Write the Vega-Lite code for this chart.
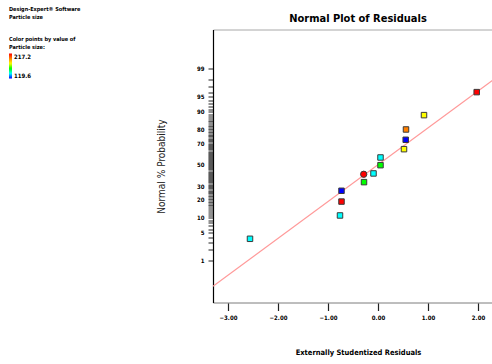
{
  "$schema": "https://vega.github.io/schema/vega-lite/v6.json",
  "width": 290,
  "height": 273,
  "padding": {"left": 9, "top": 6.5, "right": 0, "bottom": 0},
  "background": "white",
  "title": {
    "text": "Normal Plot of Residuals",
    "font": "DejaVu Sans Condensed",
    "fontSize": 11,
    "fontWeight": "bold",
    "color": "#000000",
    "anchor": "middle",
    "frame": "group",
    "offset": -16.5
  },
  "datasets": {
    "fit": [
      {"residual": -3.3, "normal_score": -2.937},
      {"residual": 2.5, "normal_score": 2.225}
    ],
    "points": [
      {"residual": -2.56, "normal_score": -1.79, "particle_size": 139.12},
      {"residual": -0.76, "normal_score": -1.226, "particle_size": 139.12},
      {"residual": -0.73, "normal_score": -0.89, "particle_size": 217.2},
      {"residual": -0.73, "normal_score": -0.629, "particle_size": 119.6},
      {"residual": -0.28, "normal_score": -0.42, "particle_size": 158.64},
      {"residual": -0.09, "normal_score": -0.21, "particle_size": 139.12},
      {"residual": 0.05, "normal_score": -0.01, "particle_size": 158.64},
      {"residual": 0.05, "normal_score": 0.176, "particle_size": 139.12},
      {"residual": 0.52, "normal_score": 0.377, "particle_size": 178.16},
      {"residual": 0.554, "normal_score": 0.604, "particle_size": 119.6},
      {"residual": 0.56, "normal_score": 0.853, "particle_size": 197.68},
      {"residual": 0.92, "normal_score": 1.20, "particle_size": 178.16},
      {"residual": 1.974, "normal_score": 1.756, "particle_size": 217.2}
    ],
    "flagged": [
      {"residual": -0.286, "normal_score": -0.23, "particle_size": 217.2}
    ]
  },
  "layer": [
    {
      "data": {"name": "fit"},
      "mark": {"type": "line", "color": "#ff9a9a", "strokeWidth": 1.2, "clip": true},
      "encoding": {
        "x": {"field": "residual", "type": "quantitative", "title": "Externally Studentized Residuals",
          "scale": {"domain": [-3.3, 2.5], "nice": false, "zero": false}},
        "y": {"field": "normal_score", "type": "quantitative", "axis": null,
          "scale": {"domain": [-3.33, 3.27], "nice": false, "zero": false}}
      }
    },
    {
      "data": {"name": "points"},
      "mark": {"type": "square", "size": 30, "filled": true, "opacity": 1, "stroke": "#3a3a3a", "strokeWidth": 1},
      "encoding": {
        "x": {"field": "residual", "type": "quantitative", "title": "Externally Studentized Residuals",
          "scale": {"domain": [-3.3, 2.5], "nice": false, "zero": false}},
        "y": {
          "field": "normal_score",
          "type": "quantitative",
          "title": "Normal % Probability",
          "scale": {"domain": [-3.33, 3.27], "nice": false, "zero": false},
          "axis": {
            "orient": "left",
            "values": [-2.3263,-2.0537,-1.8808,-1.7507,-1.6449,-1.5548,-1.4758,-1.4051,-1.3408,-1.2816,-1.2265,-1.175,-1.1264,-1.0803,-1.0364,-0.9945,-0.9542,-0.9154,-0.8779,-0.8416,-0.8064,-0.7722,-0.7388,-0.7063,-0.6745,-0.6433,-0.6128,-0.5828,-0.5534,-0.5244,-0.4959,-0.4677,-0.4399,-0.4125,-0.3853,-0.3585,-0.3319,-0.3055,-0.2793,-0.2533,-0.2275,-0.2019,-0.1764,-0.151,-0.1257,-0.1004,-0.0753,-0.0502,-0.0251,0,0.0251,0.0502,0.0753,0.1004,0.1257,0.151,0.1764,0.2019,0.2275,0.2533,0.2793,0.3055,0.3319,0.3585,0.3853,0.4125,0.4399,0.4677,0.4959,0.5244,0.5534,0.5828,0.6128,0.6433,0.6745,0.7063,0.7388,0.7722,0.8064,0.8416,0.8779,0.9154,0.9542,0.9945,1.0364,1.0803,1.1264,1.175,1.2265,1.2816,1.3408,1.4051,1.4758,1.5548,1.6449,1.7507,1.8808,2.0537,2.3263],
            "labelExpr": "indexof([1,5,10,20,30,50,70,80,90,95,99], round(cumulativeNormal(datum.value) * 100)) >= 0 ? format(cumulativeNormal(datum.value) * 100, '.0f') : ''",
            "labelOverlap": false,
            "labelFlush": false,
            "grid": false,
            "domain": true,
            "domainColor": "#000000",
            "domainWidth": 1.2,
            "ticks": true,
            "tickColor": "#222222",
            "tickWidth": 1,
            "tickSize": 5,
            "labelPadding": 4,
            "labelFont": "DejaVu Sans Condensed",
            "labelFontSize": 6,
            "labelFontWeight": "bold",
            "labelColor": "#000000",
            "titleFont": "DejaVu Sans Condensed",
            "titleFontSize": 10,
            "titleFontWeight": "normal",
            "titleColor": "#222222",
            "titlePadding": 30
          }
        },
        "color": {
          "field": "particle_size",
          "type": "quantitative",
          "scale": {
            "domain": [119.6, 139.12, 158.64, 178.16, 197.68, 217.2],
            "range": ["#0000ff", "#00ffff", "#00ff00", "#ffff00", "#ff7f00", "#ff0000"],
            "interpolate": "rgb"
          },
          "legend": {
            "title": ["Design-Expert® Software", "Particle size", "\u2800", "\u2800", "Color points by value of", "Particle size:"],
            "orient": "none",
            "legendX": -204,
            "legendY": -22.5,
            "direction": "vertical",
            "gradientLength": 25,
            "gradientThickness": 3,
            "gradientStrokeWidth": 0,
            "values": [119.6, 217.2],
            "format": ".1f",
            "labelFont": "DejaVu Sans Condensed",
            "labelFontSize": 6,
            "labelFontWeight": "bold",
            "labelOffset": 2,
            "titleFont": "DejaVu Sans Condensed",
            "titleFontSize": 5.5,
            "titleFontWeight": "bold",
            "titleColor": "#000000",
            "titleLineHeight": 7.6,
            "titlePadding": 3,
            "encode": {
              "labels": {
                "update": {
                  "fill": {"signal": "datum.value > 150 ? '#ff0000' : '#0000cc'"}
                }
              }
            }
          }
        }
      }
    },
    {
      "data": {"name": "flagged"},
      "mark": {"type": "circle", "size": 40, "opacity": 1, "color": "#ff0000", "stroke": "#3a3a3a", "strokeWidth": 1},
      "encoding": {
        "x": {"field": "residual", "type": "quantitative", "title": "Externally Studentized Residuals",
          "scale": {"domain": [-3.3, 2.5], "nice": false, "zero": false}},
        "y": {"field": "normal_score", "type": "quantitative", "axis": null,
          "scale": {"domain": [-3.33, 3.27], "nice": false, "zero": false}}
      }
    }
  ],
  "resolve": {"axis": {"y": "independent"}},
  "config": {
    "view": {"stroke": "#a8a8a8", "strokeWidth": 1},
    "axisX": {
      "values": [-3, -2, -1, 0, 1, 2],
      "format": ".2f",
      "grid": false,
      "domainColor": "#a8a8a8",
      "tickColor": "#222222",
      "tickSize": 8,
      "tickWidth": 1.2,
      "labelPadding": 4,
      "labelFont": "DejaVu Sans Condensed",
      "labelFontSize": 6,
      "labelFontWeight": "bold",
      "labelColor": "#000000",
      "titleFont": "DejaVu Sans Condensed",
      "titleFontSize": 7.5,
      "titleFontWeight": "bold",
      "titleColor": "#000000",
      "titlePadding": 28
    }
  }
}
